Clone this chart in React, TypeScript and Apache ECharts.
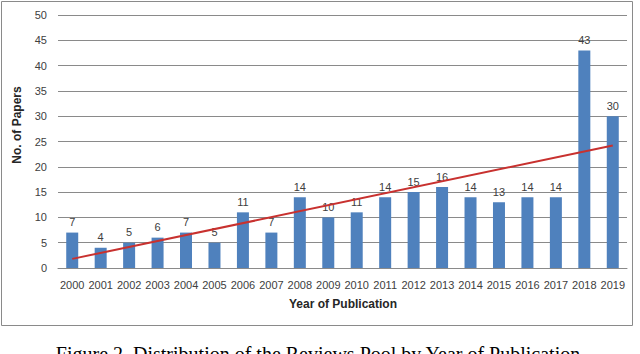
import React, { useEffect, useRef } from "react";
import * as echarts from "echarts";

const years = ["2000","2001","2002","2003","2004","2005","2006","2007","2008","2009","2010","2011","2012","2013","2014","2015","2016","2017","2018","2019"];
const papers = [7,4,5,6,7,5,11,7,14,10,11,14,15,16,14,13,14,14,43,30];
const trendStart = ["2000", 1.8];
const trendEnd = ["2019", 24.2];
const yTicks = { min: 0, max: 50, interval: 5 };

const FONT = "'Liberation Sans', Arial, sans-serif";

export default function App() {
  const ref = useRef<HTMLDivElement>(null);
  useEffect(() => {
    const chart = echarts.init(ref.current!, undefined, { renderer: "svg" });
    chart.setOption({
      animation: false,
      backgroundColor: "#ffffff",
      grid: { left: 58, right: 13, top: 15, bottom: 86 },
      xAxis: {
        type: "category",
        data: years,
        axisLine: { show: true, lineStyle: { color: "#8a8a8a", width: 1 } },
        axisTick: { show: false },
        axisLabel: { color: "#404040", fontSize: 11, fontFamily: FONT, margin: 11, interval: 0 },
      },
      yAxis: {
        type: "value",
        min: yTicks.min,
        max: yTicks.max,
        interval: yTicks.interval,
        axisLine: { show: false },
        axisTick: { show: false },
        axisLabel: { color: "#404040", fontSize: 11, fontFamily: FONT, margin: 11 },
        splitLine: { lineStyle: { color: "#8a8a8a", width: 1 } },
      },
      series: [
        {
          type: "bar",
          data: papers,
          barWidth: 12,
          itemStyle: { color: "#4f81bd" },
          label: { show: true, position: "top", distance: 5, color: "#404040", fontSize: 11, fontFamily: FONT },
        },
        {
          type: "line",
          data: [trendStart, trendEnd],
          symbol: "none",
          lineStyle: { color: "#c8312f", width: 2 },
          z: 5,
        },
      ],
      graphic: [
        { type: "rect", shape: { x: 1.5, y: 1.5, width: 631, height: 324 }, style: { fill: "none", stroke: "#8a8a8a", lineWidth: 1 }, z: -1 },
        { type: "text", x: 17, y: 125, rotation: Math.PI / 2, style: { text: "No. of Papers", font: `bold 12px ${FONT}`, fill: "#262626", align: "center", verticalAlign: "middle" } },
        { type: "text", x: 343, y: 304, style: { text: "Year of Publication", font: `bold 12px ${FONT}`, fill: "#262626", align: "center", verticalAlign: "middle" } },
        { type: "text", x: 318, y: 344, style: { text: "Figure 2. Distribution of the Reviews Pool by Year of Publication", font: `20px 'Liberation Serif', 'Times New Roman', serif`, fill: "#000000", align: "center", verticalAlign: "top" } },
      ],
    });
    return () => chart.dispose();
  }, []);
  return <div ref={ref} style={{ position: "fixed", left: 0, top: 0, width: 640, height: 354 }} />;
}
